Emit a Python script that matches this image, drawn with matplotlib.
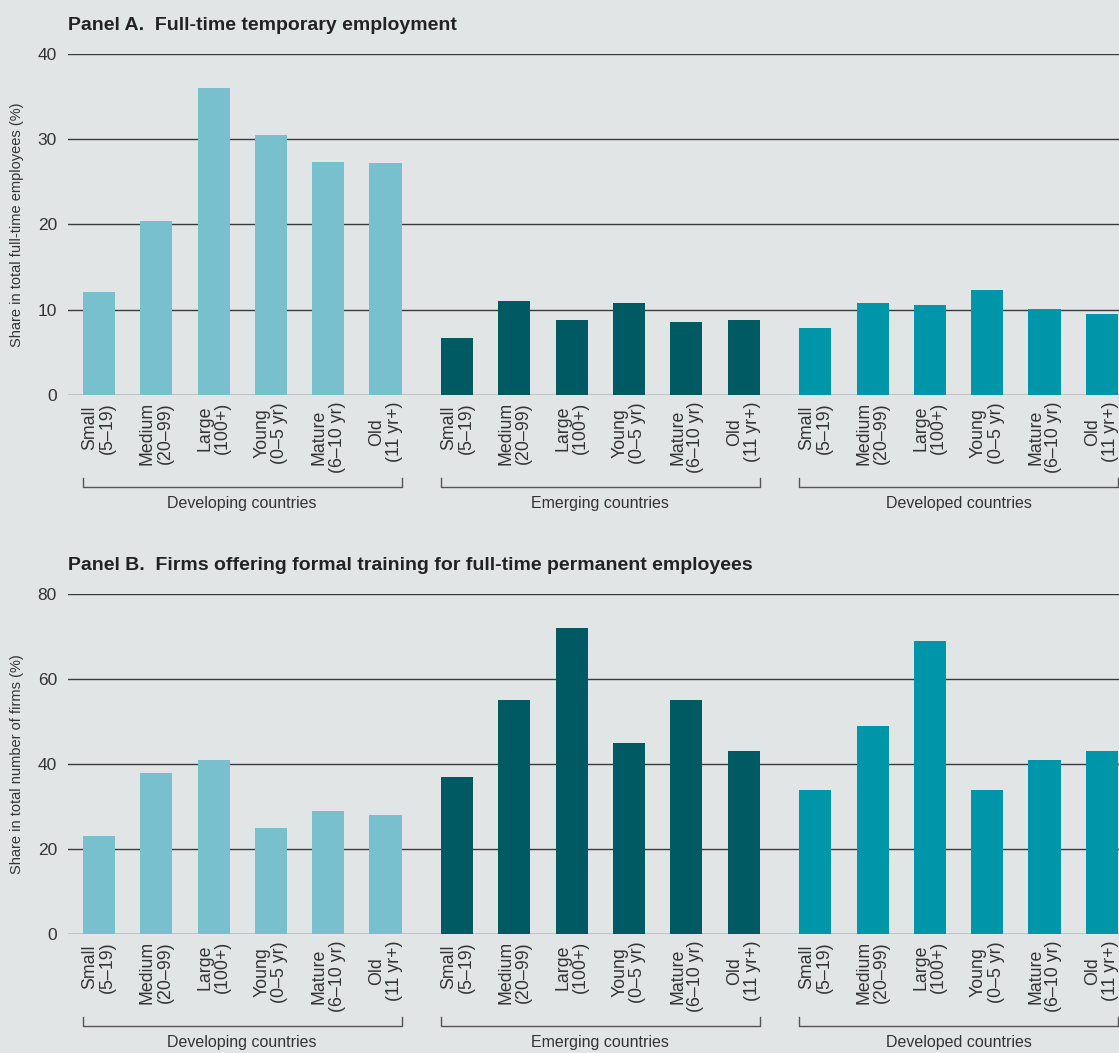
import numpy as np
import matplotlib.pyplot as plt
from matplotlib import transforms

plt.rcParams['font.family'] = ['Liberation Sans', 'DejaVu Sans']

categories = ['Small\n(5–19)', 'Medium\n(20–99)', 'Large\n(100+)',
              'Young\n(0–5 yr)', 'Mature\n(6–10 yr)', 'Old\n(11 yr+)']
groups = ['Developing countries', 'Emerging countries', 'Developed countries']
colors = ['#78c0cd', '#005a64', '#0096aa']

# Panel A: full-time temporary employment (% of full-time employees)
temp_developing = [12.1, 20.4, 36.0, 30.5, 27.3, 27.2]
temp_emerging = [6.7, 11.0, 8.8, 10.8, 8.6, 8.8]
temp_developed = [7.9, 10.8, 10.6, 12.3, 10.1, 9.5]

# Panel B: firms offering formal training (% of firms)
train_developing = [23, 38, 41, 25, 29, 28]
train_emerging = [37, 55, 72, 45, 55, 43]
train_developed = [34, 49, 69, 34, 41, 43]

bg = '#e2e5e6'
grid_c = '#3a3a3a'
text_c = '#333333'
group_step = 6.25
bar_w = 0.56

fig = plt.figure(figsize=(11.19, 10.53), dpi=100, facecolor=bg)


def draw_panel(rect, series, ymax, yticks, ylabel, title):
    ax = fig.add_axes(rect, facecolor=bg)
    all_x = []
    for g, vals in enumerate(series):
        x = g * group_step + np.arange(len(vals))
        all_x.extend(x)
        ax.bar(x, vals, width=bar_w, color=colors[g], zorder=3)
        # bracket under group
        trans = transforms.blended_transform_factory(ax.transData, ax.transAxes)
        x0, x1 = x[0] - bar_w / 2, x[-1] + bar_w / 2
        ax.plot([x0, x0, x1, x1], [-0.243, -0.27, -0.27, -0.243], color='#555555',
                lw=1, transform=trans, clip_on=False)
        ax.text((x0 + x1) / 2, -0.297, groups[g], transform=trans, ha='center',
                va='top', fontsize=11.5, color=text_c)
    ax.set_xticks(all_x)
    ax.set_xticklabels(categories * len(series), rotation=90, color=text_c,
                       linespacing=1.05)
    ax.set_xlim(-0.54, 17.8)
    ax.set_ylim(0, ymax)
    ax.set_yticks(yticks)
    ax.tick_params(axis='both', length=0, labelsize=12.5, colors=text_c)
    ax.tick_params(axis='x', pad=5, labelsize=12.8)
    ax.tick_params(axis='y', pad=8)
    ax.grid(axis='y', color=grid_c, lw=1, zorder=1)
    for s in ax.spines.values():
        s.set_visible(False)
    ax.set_ylabel(ylabel, fontsize=10.5, color=text_c, labelpad=10)
    ax.text(0, 1.06, title, transform=ax.transAxes, ha='left', va='bottom',
            fontsize=14, fontweight='bold', color='#222222',
            family=['Liberation Sans Narrow', 'Liberation Sans', 'DejaVu Sans'])
    return ax


draw_panel([0.0608, 0.6249, 0.9392, 0.3238],
           [temp_developing, temp_emerging, temp_developed], 40, [0, 10, 20, 30, 40],
           'Share in total full-time employees (%)',
           'Panel A.  Full-time temporary employment')

draw_panel([0.0608, 0.1130, 0.9392, 0.3229],
           [train_developing, train_emerging, train_developed], 80, [0, 20, 40, 60, 80],
           'Share in total number of firms (%)',
           'Panel B.  Firms offering formal training for full-time permanent employees')

fig.savefig('out.png', dpi=100, facecolor=bg)
